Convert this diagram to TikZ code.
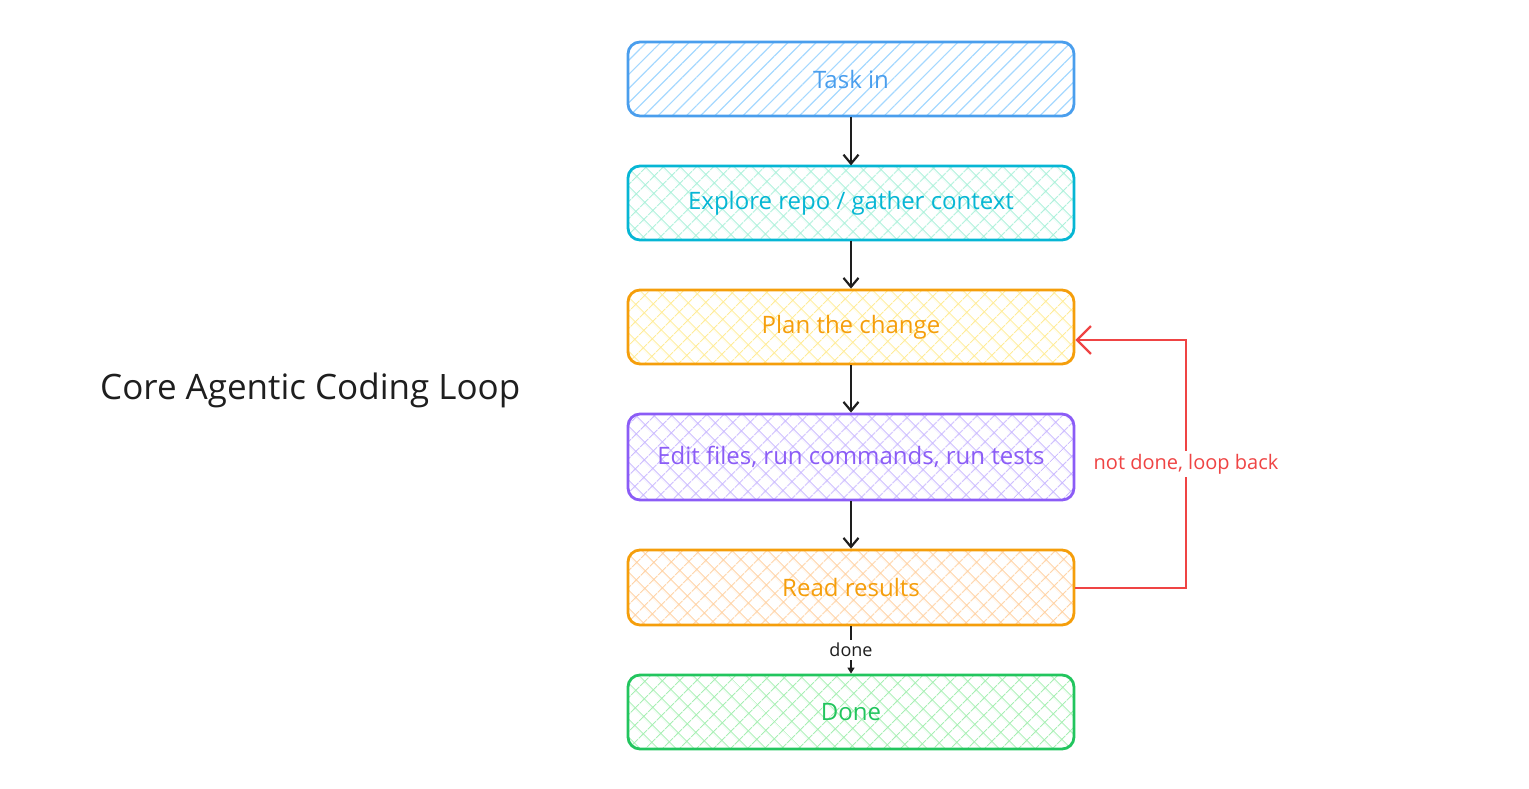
\documentclass[tikz,border=0pt]{standalone}
\usepackage{fontspec}
\setmainfont{Open Sans}
\usetikzlibrary{patterns.meta,arrows.meta}
\definecolor{cblue}{HTML}{4A9EED}
\definecolor{fblue}{HTML}{A5D8FF}
\definecolor{ccyan}{HTML}{06B6D4}
\definecolor{fcyan}{HTML}{A8F0D8}
\definecolor{corange}{HTML}{F59E0B}
\definecolor{fyellow}{HTML}{FFEC99}
\definecolor{cviolet}{HTML}{8B5CF6}
\definecolor{fviolet}{HTML}{C9B8FF}
\definecolor{forange}{HTML}{FFD0A0}
\definecolor{cgreen}{HTML}{22C55E}
\definecolor{fgreen}{HTML}{A8EFB4}
\definecolor{cred}{HTML}{EF4444}
\definecolor{ink}{HTML}{1E1E1E}
\tikzset{
  box/.style={draw=#1, text=#1, line width=2.8pt, rounded corners=12pt,
    minimum width=446pt, inner sep=0pt, font=\fontsize{24}{28}\selectfont},
  hatchfill/.style={pattern={Lines[angle=45,distance=10pt,line width=1.2pt]}, pattern color=#1},
  xfill/.style={pattern={Hatch[angle=45,distance=13pt,line width=1.2pt]}, pattern color=#1},
  flow/.style={draw=ink, line width=2.6pt, -{Straight Barb[length=9pt,width=15pt,line width=2.2pt]}},
  lbl/.style={fill=white, inner sep=3pt},
}
\begin{document}
\begin{tikzpicture}[x=1pt,y=-1pt]
\useasboundingbox (0,0) rectangle (1529,788);
\node[box=cblue, hatchfill=fblue, minimum height=74pt] (task) at (851,79) {Task in};
\node[box=ccyan, xfill=fcyan, minimum height=74pt] (explore) at (851,203) {Explore repo / gather context};
\node[box=corange, xfill=fyellow, minimum height=74pt] (plan) at (851,327) {Plan the change};
\node[box=cviolet, xfill=fviolet, minimum height=86pt] (edit) at (851,457) {Edit files, run commands, run tests};
\node[box=corange, xfill=forange, minimum height=75pt] (read) at (851,587.5) {Read results};
\node[box=cgreen, xfill=fgreen, minimum height=74pt] (done) at (851,712) {Done};

\draw[flow] (task) -- (explore);
\draw[flow] (explore) -- (plan);
\draw[flow] (plan) -- (edit);
\draw[flow] (edit) -- (read);
\draw[draw=ink, line width=2pt, -{Triangle[length=6pt,width=7pt]}] (read) -- node[lbl, text=ink, font=\fontsize{18}{21}\selectfont] (donelbl) {done} (done);

\coordinate (c1) at (1186,588);
\coordinate (c2) at (1186,340);
\draw[cred, line width=2.4pt, -{Straight Barb[length=14pt,width=28pt,line width=2.2pt]}]
  (read.east |- c1) -- (c1) -- node[lbl, text=cred, font=\fontsize{20}{24}\selectfont, pos=0.5] (looplbl) {not done, loop back} (c2) -- (plan.east |- c2);

\node[font=\fontsize{35}{42}\selectfont, text=ink, anchor=west, inner sep=0pt] (title) at (100,390) {Core Agentic Coding Loop};
\end{tikzpicture}
\end{document}
